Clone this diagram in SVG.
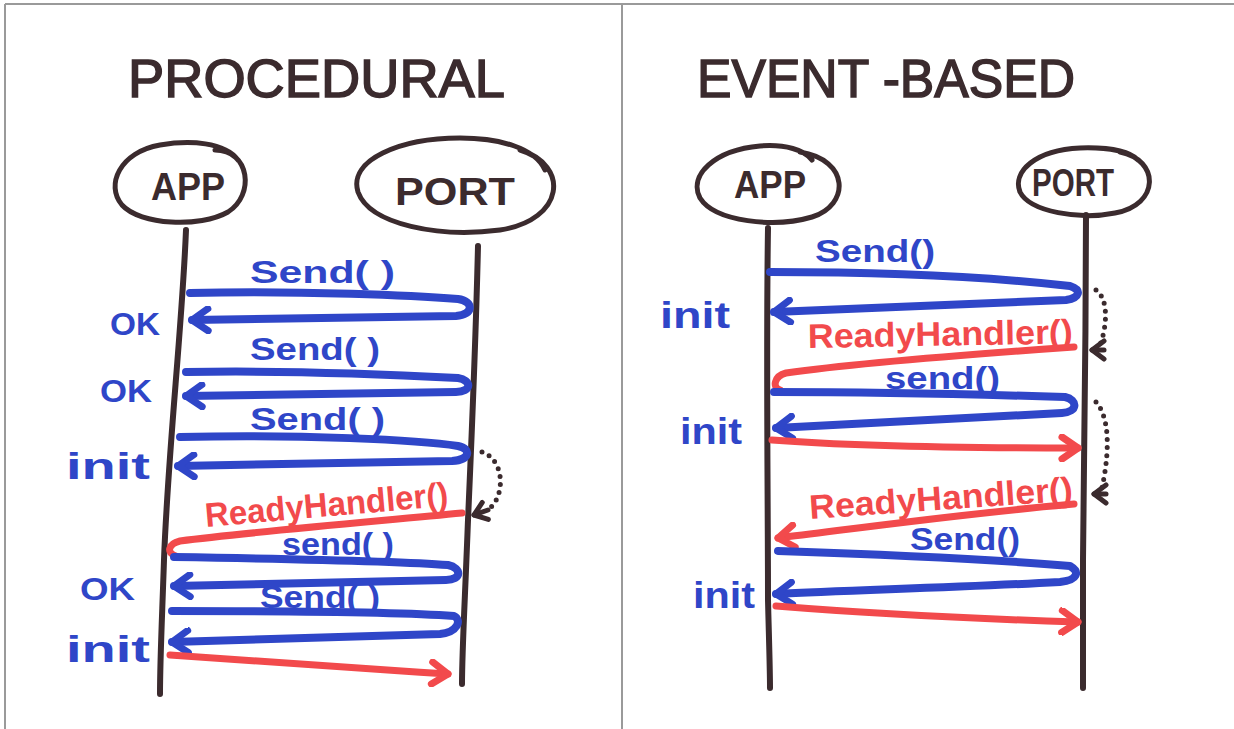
<svg xmlns="http://www.w3.org/2000/svg" width="1234" height="729" viewBox="0 0 1234 729">
  <style>
    .frame { stroke: #9a9a9a; stroke-width: 2; fill: none; }
    .ink { stroke: #3b2b2e; fill: none; stroke-linecap: round; stroke-linejoin: round; }
    .life { stroke-width: 6; }
    .bubble { stroke-width: 5; }
    .blue { stroke: #2f46c8; fill: none; stroke-width: 8; stroke-linecap: round; stroke-linejoin: round; }
    .red { stroke: #f24a4c; fill: none; stroke-width: 7; stroke-linecap: round; stroke-linejoin: round; }
    .dots { stroke: #3b2b2e; fill: none; stroke-width: 5; stroke-linecap: round; stroke-dasharray: 0 8; }
    .title { font-family: "Liberation Sans", "DejaVu Sans", sans-serif; font-size: 54px; fill: #3b2b2e; stroke: #3b2b2e; stroke-width: 1.5; }
    .node { font-family: "Liberation Sans", "DejaVu Sans", sans-serif; font-size: 38px; font-weight: bold; fill: #3b2b2e; text-anchor: middle; }
    .lb { font-family: "Liberation Sans", "DejaVu Sans", sans-serif; font-size: 32px; font-weight: bold; fill: #2f46c8; }
    .li { font-family: "Liberation Sans", "DejaVu Sans", sans-serif; font-size: 36px; font-weight: bold; fill: #2f46c8; }
    .lr { font-family: "Liberation Sans", "DejaVu Sans", sans-serif; font-size: 34px; font-weight: bold; fill: #f24a4c; }
  </style>
  <defs>
    <marker id="hb" viewBox="-20 -14 24 28" markerWidth="24" markerHeight="28" refX="0" refY="0" orient="auto" markerUnits="userSpaceOnUse">
      <path d="M-16,-11 L0,0 L-16,11" stroke="#2f46c8" stroke-width="7" fill="none" stroke-linecap="round" stroke-linejoin="round"/>
    </marker>
    <marker id="hr" viewBox="-20 -14 24 28" markerWidth="24" markerHeight="28" refX="0" refY="0" orient="auto" markerUnits="userSpaceOnUse">
      <path d="M-16,-11 L0,0 L-16,11" stroke="#f24a4c" stroke-width="7" fill="none" stroke-linecap="round" stroke-linejoin="round"/>
    </marker>
    <marker id="hk" viewBox="-16 -12 20 24" markerWidth="20" markerHeight="24" refX="0" refY="0" orient="auto" markerUnits="userSpaceOnUse">
      <path d="M-12,-9 L0,0 L-12,9" stroke="#3b2b2e" stroke-width="5" fill="none" stroke-linecap="round" stroke-linejoin="round"/>
    </marker>
  </defs>

  <rect width="1234" height="729" fill="#ffffff"/>

  <!-- table frame -->
  <g id="frame">
    <path class="frame" d="M5,4 H1234 M5,4 V729 M622,4 V729"/>
  </g>

  <!-- ===== left panel ===== -->
  <g id="title-procedural">
    <text class="title" x="128" y="97" textLength="377" lengthAdjust="spacingAndGlyphs">PROCEDURAL</text>
  </g>

  <g id="proc-app">
    <path class="ink bubble" d="M215,150 C250,150 255,195 228,212 C200,228 140,225 122,205 C105,185 120,152 160,145 C190,140 225,142 238,160"/>
    <text class="node" x="188" y="200" textLength="74" lengthAdjust="spacingAndGlyphs">APP</text>
  </g>

  <g id="proc-port">
    <path class="ink bubble" d="M520,150 C570,165 565,220 500,230 C440,238 370,225 358,192 C348,160 400,138 460,138 C500,138 535,148 545,170"/>
    <text class="node" x="455" y="205" textLength="120" lengthAdjust="spacingAndGlyphs">PORT</text>
  </g>

  <g id="proc-lifelines">
    <path class="ink life" d="M186,230 C182,330 168,450 164,560 C162,620 160,660 160,694"/>
    <path class="ink life" d="M478,246 C476,330 472,430 468,520 C465,600 462,650 462,684"/>
  </g>

  <g id="proc-connectors">
    <!-- Send() / OK -->
    <path class="blue" d="M190,293 C300,290 420,296 458,299 C474,301 474,315 456,316 L192,320" marker-end="url(#hb)"/>
    <!-- Send() / OK -->
    <path class="blue" d="M186,372 C300,370 420,376 458,378 C472,380 472,392 456,392 L186,396" marker-end="url(#hb)"/>
    <!-- Send() / init -->
    <path class="blue" d="M180,437 C300,434 420,440 458,446 C472,449 470,460 452,461 L178,466" marker-end="url(#hb)"/>
    <!-- callback delay -->
    <path class="dots" d="M482,452 C505,460 505,495 490,508"/>
    <path class="ink" stroke-width="5" d="M488,510 L474,515" marker-end="url(#hk)"/>
    <!-- ReadyHandler() -->
    <path class="red" d="M462,513 C380,521 250,532 180,541 C168,544 166,553 176,556"/>
    <!-- send() / OK -->
    <path class="blue" d="M174,557 C300,559 400,561 448,565 C462,568 462,580 446,580 L174,586" marker-end="url(#hb)"/>
    <!-- Send() / init -->
    <path class="blue" d="M172,611 C300,611 400,612 454,616 C462,620 458,632 440,634 L172,642" marker-end="url(#hb)"/>
    <!-- final return -->
    <path class="red" d="M170,655 C250,660 350,668 448,674" marker-end="url(#hr)"/>
  </g>

  <g id="proc-labels">
    <text class="lb" x="250" y="283" textLength="145" lengthAdjust="spacingAndGlyphs">Send( )</text>
    <text class="lb" x="110" y="335" textLength="50" lengthAdjust="spacingAndGlyphs">OK</text>
    <text class="lb" x="250" y="360" textLength="130" lengthAdjust="spacingAndGlyphs">Send( )</text>
    <text class="lb" x="100" y="402" textLength="52" lengthAdjust="spacingAndGlyphs">OK</text>
    <text class="lb" x="250" y="430" textLength="135" lengthAdjust="spacingAndGlyphs">Send( )</text>
    <text class="li" x="66" y="479" textLength="84" lengthAdjust="spacingAndGlyphs">init</text>
    <text class="lr" x="206" y="527" textLength="244" lengthAdjust="spacingAndGlyphs" transform="rotate(-5 206 527)">ReadyHandler()</text>
    <text class="lb" x="282" y="555" textLength="112" lengthAdjust="spacingAndGlyphs">send( )</text>
    <text class="lb" x="80" y="600" textLength="55" lengthAdjust="spacingAndGlyphs">OK</text>
    <text class="lb" x="260" y="608" textLength="120" lengthAdjust="spacingAndGlyphs">Send( )</text>
    <text class="li" x="66" y="662" textLength="84" lengthAdjust="spacingAndGlyphs">init</text>
  </g>

  <!-- ===== right panel ===== -->
  <g id="title-event">
    <text class="title" x="697" y="97" textLength="378" lengthAdjust="spacingAndGlyphs">EVENT -BASED</text>
  </g>

  <g id="ev-app">
    <path class="ink bubble" d="M800,152 C850,160 850,205 812,217 C775,228 715,222 700,198 C688,175 715,150 760,146 C785,144 805,150 812,160"/>
    <text class="node" x="770" y="198" textLength="72" lengthAdjust="spacingAndGlyphs">APP</text>
  </g>

  <g id="ev-port">
    <path class="ink bubble" d="M1120,152 C1160,160 1160,205 1115,213 C1080,220 1030,212 1020,192 C1012,172 1035,150 1080,148 C1110,147 1130,152 1138,160"/>
    <text class="node" x="1073" y="196" textLength="82" lengthAdjust="spacingAndGlyphs">PORT</text>
  </g>

  <g id="ev-lifelines">
    <path class="ink life" d="M768,228 C766,350 768,500 768,600 C769,640 770,670 770,688"/>
    <path class="ink life" d="M1086,215 C1086,330 1084,450 1083,560 C1083,620 1083,660 1083,688"/>
  </g>

  <g id="ev-connectors">
    <!-- Send() / init -->
    <path class="blue" d="M770,272 C900,272 1000,278 1070,286 C1082,290 1080,298 1066,300 C950,305 850,308 774,312" marker-end="url(#hb)"/>
    <!-- callback delay -->
    <path class="dots" d="M1096,290 C1110,300 1106,330 1100,345"/>
    <path class="ink" stroke-width="5" d="M1104,350 L1092,350" marker-end="url(#hk)"/>
    <!-- ReadyHandler() then send() / init -->
    <path class="red" d="M1074,347 C960,355 850,364 786,373 C774,376 772,388 780,390"/>
    <path class="blue" d="M774,392 C900,392 1000,395 1065,397 C1078,400 1078,412 1062,413 C950,418 850,424 776,428" marker-end="url(#hb)"/>
    <!-- return -->
    <path class="red" d="M772,440 C850,446 950,448 1078,448" marker-end="url(#hr)"/>
    <!-- callback delay -->
    <path class="dots" d="M1096,402 C1112,420 1108,460 1102,488"/>
    <path class="ink" stroke-width="5" d="M1106,494 L1094,494" marker-end="url(#hk)"/>
    <!-- ReadyHandler() -->
    <path class="red" d="M1074,504 C960,514 860,528 778,538" marker-end="url(#hr)"/>
    <!-- Send() / init -->
    <path class="blue" d="M778,551 C900,555 1000,560 1070,566 C1080,572 1078,580 1060,582 C950,588 850,590 776,594" marker-end="url(#hb)"/>
    <!-- return -->
    <path class="red" d="M776,606 C850,612 950,618 1078,622" marker-end="url(#hr)"/>
  </g>

  <g id="ev-labels">
    <text class="lb" x="815" y="262" textLength="120" lengthAdjust="spacingAndGlyphs">Send()</text>
    <text class="li" x="660" y="328" textLength="70" lengthAdjust="spacingAndGlyphs">init</text>
    <text class="lr" x="808" y="348" textLength="265" lengthAdjust="spacingAndGlyphs" transform="rotate(-1 808 348)">ReadyHandler()</text>
    <text class="lb" x="885" y="389" textLength="115" lengthAdjust="spacingAndGlyphs">send()</text>
    <text class="li" x="680" y="444" textLength="62" lengthAdjust="spacingAndGlyphs">init</text>
    <text class="lr" x="810" y="519" textLength="264" lengthAdjust="spacingAndGlyphs" transform="rotate(-4 810 519)">ReadyHandler()</text>
    <text class="lb" x="910" y="550" textLength="110" lengthAdjust="spacingAndGlyphs">Send()</text>
    <text class="li" x="693" y="608" textLength="62" lengthAdjust="spacingAndGlyphs">init</text>
  </g>
</svg>
